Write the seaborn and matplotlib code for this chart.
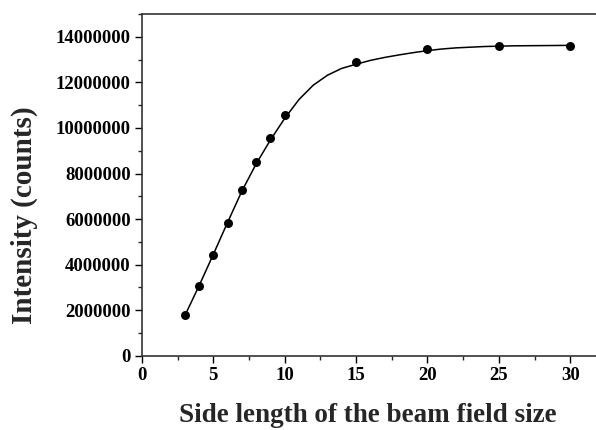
import matplotlib
matplotlib.use("Agg")
import matplotlib.pyplot as plt
import seaborn as sns
import pandas as pd
from matplotlib.ticker import MultipleLocator, FuncFormatter

# measured data points
side_length = [3, 4, 5, 6, 7, 8, 9, 10, 15, 20, 25, 30]
intensity = [1790000, 3045000, 4430000, 5840000, 7280000, 8490000,
             9570000, 10560000, 12900000, 13490000, 13600000, 13600000]

# fitted curve
fit_x = [3, 4, 5, 6, 7, 8, 9, 10, 11, 12, 13, 14, 15, 16, 17, 18, 19, 20,
         21, 22, 24, 26, 30]
fit_y = [1740000, 3060000, 4440000, 5850000, 7220000, 8420000, 9470000, 10420000,
         11250000, 11880000, 12320000, 12620000, 12800000, 12970000, 13100000,
         13210000, 13310000, 13400000, 13470000, 13520000, 13580000, 13610000,
         13630000]

x_ticks = [0, 5, 10, 15, 20, 25, 30]
y_ticks = [0, 2000000, 4000000, 6000000, 8000000, 10000000, 12000000, 14000000]

sns.set_style("ticks")
plt.rcParams['font.family'] = ['Liberation Serif', 'DejaVu Serif']
plt.rcParams['font.weight'] = 'bold'

fig = plt.figure(figsize=(5.96, 4.30), dpi=100)
ax = fig.add_axes([0.238, 0.173, 0.762, 0.794])

pts = pd.DataFrame({"x": side_length, "y": intensity})
fit = pd.DataFrame({"x": fit_x, "y": fit_y})

sns.lineplot(data=fit, x="x", y="y", ax=ax, color="black", linewidth=1.1)
sns.scatterplot(data=pts, x="x", y="y", ax=ax, color="black", s=42,
                edgecolor="black", linewidth=0, zorder=3)

ax.set_xlim(0, 31.8)
ax.set_ylim(0, 15000000)
ax.set_xticks(x_ticks)
ax.set_yticks(y_ticks)
ax.xaxis.set_minor_locator(MultipleLocator(2.5))
ax.yaxis.set_minor_locator(MultipleLocator(1000000))
ax.yaxis.set_major_formatter(FuncFormatter(lambda v, p: f"{int(v)}"))
ax.xaxis.set_major_formatter(FuncFormatter(lambda v, p: f"{int(v)}"))

ax.tick_params(axis="both", which="major", direction="out", length=5, width=1,
               labelsize=13.5, colors="black", pad=3)
ax.tick_params(axis="both", which="minor", direction="out", length=3, width=1)
for lab in ax.get_xticklabels() + ax.get_yticklabels():
    lab.set_fontweight("bold")

for s in ["left", "bottom", "top"]:
    ax.spines[s].set_color("#333333")
    ax.spines[s].set_linewidth(1.2)
ax.spines["right"].set_visible(False)

ax.set_xlabel("Side length of the beam field size", fontsize=19.5, fontweight="bold")
ax.set_ylabel("Intensity (counts)", fontsize=21, fontweight="bold")
ax.xaxis.set_label_coords(0.497, -0.14)
ax.yaxis.set_label_coords(-0.228, 0.412)

fig.savefig("out.png", dpi=100)
